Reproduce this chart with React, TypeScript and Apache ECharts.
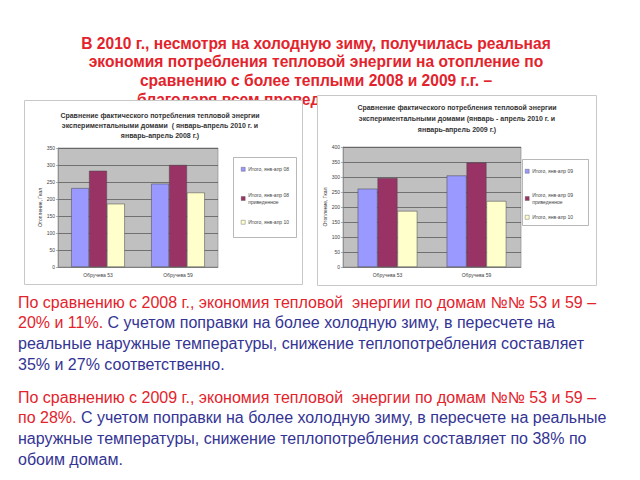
import React, { useEffect, useRef } from "react";
import * as echarts from "echarts";

const categories = ["Обручева 53", "Обручева 59"];

const leftSeriesNames = ["Итого, янв-апр 08", "Итого, янв-апр 08\nприведенное", "Итого, янв-апр 10"];
const left08 = [232, 245];
const left08adj = [283, 300];
const left10a = [186, 219];

const rightSeriesNames = ["Итого, янв-апр 09", "Итого, янв-апр 09\nприведенное", "Итого, янв-апр 10"];
const right09 = [261, 305];
const right09adj = [297, 348];
const right10b = [187, 220];

const leftTicks = { min: 0, max: 350, interval: 50 };
const rightTicks = { min: 0, max: 400, interval: 50 };

const yName = "Отопление, Гкал";

const leftTitle = [
  "Сравнение фактического потребления тепловой энергии",
  "экспериментальными домами  ( январь-апрель 2010 г. и",
  "январь-апрель 2008 г.)",
];
const rightTitle = [
  "Сравнение фактического потребления тепловой энергии",
  "экспериментальными домами (январь - апрель 2010 г. и",
  "январь-апрель 2009 г.)",
];

const headLines = [
  "В 2010 г., несмотря на холодную зиму, получилась реальная",
  "экономия потребления тепловой энергии на отопление по",
  "сравнению с более теплыми 2008 и 2009 г.г. –",
];
const headLast = "благодаря всем провед";

const para1 = [
  [["r", "По сравнению с 2008 г., экономия тепловой  энергии по домам №№ 53 и 59 –"]],
  [["r", "20% и 11%."], ["b", " С учетом поправки на более холодную зиму, в пересчете на"]],
  [["b", "реальные наружные температуры, снижение теплопотребления составляет"]],
  [["b", "35% и 27% соответственно."]],
];
const para2 = [
  [["r", "По сравнению с 2009 г., экономия тепловой  энергии по домам №№ 53 и 59 –"]],
  [["r", "по 28%."], ["b", " С учетом поправки на более холодную зиму, в пересчете на реальные"]],
  [["b", "наружные температуры, снижение теплопотребления составляет по 38% по"]],
  [["b", "обоим домам."]],
];

const COLORS = ["#9999FF", "#993366", "#FFFFCC"];
const FONT = "Liberation Sans, Arial, sans-serif";

export default function App() {
  const ref = useRef<HTMLDivElement>(null);
  useEffect(() => {
    if (!ref.current) return;
    const chart = echarts.init(ref.current, undefined, { renderer: "svg" });

    const mkSeries = (names: string[], datas: number[][], idx: number) =>
      names.map((n, i) => ({
        type: "bar",
        name: n,
        xAxisIndex: idx,
        yAxisIndex: idx,
        data: datas[i],
        barGap: "0%",
        barCategoryGap: "33%",
        z: 5,
        itemStyle: { color: COLORS[i], borderColor: "#444", borderWidth: 0.5 },
      }));

    const yAxisBase = (t: any, gap: number) => ({
      type: "value",
      min: t.min,
      max: t.max,
      interval: t.interval,
      name: yName,
      nameLocation: "middle",
      nameGap: gap,
      z: 5,
      nameTextStyle: { fontSize: 5, color: "#333", fontFamily: FONT },
      axisLine: { show: true, lineStyle: { color: "#808080", width: 0.6 } },
      axisTick: { show: true, length: 2, lineStyle: { color: "#808080", width: 0.6 } },
      axisLabel: { fontSize: 5, color: "#444", margin: 3, fontFamily: FONT },
      splitLine: { lineStyle: { color: "#222", width: 0.5 } },
    });
    const xAxisBase = (idx: number) => ({
      type: "category",
      gridIndex: idx,
      data: categories,
      z: 5,
      axisLine: { lineStyle: { color: "#808080", width: 0.6 } },
      axisTick: { length: 2, lineStyle: { color: "#808080", width: 0.6 } },
      axisLabel: { fontSize: 5, color: "#444", margin: 5, fontFamily: FONT },
    });

    const legendItem = (name: string, ci: number, x: number, y: number) => ({
      data: [{ name, itemStyle: { color: COLORS[ci], borderColor: "#555", borderWidth: 0.4 } }],
      left: x,
      top: y,
      orient: "vertical",
      padding: 0,
      itemWidth: 4,
      itemHeight: 4,
      itemGap: 0,
      icon: "rect",
      z: 6,
      selectedMode: false,
      textStyle: { fontSize: 5, color: "#444", fontFamily: FONT, lineHeight: 6.5, padding: [0, 0, 0, -2] },
    });

    const titleText = (lines: string[], cx: number, y0: number, step: number) =>
      lines.map((l, i) => ({
        type: "text",
        x: cx,
        y: y0 + i * step,
        z: 5,
        style: {
          text: l,
          fill: "#333",
          font: `bold 7px ${FONT}`,
          align: "center",
          verticalAlign: "middle",
        },
      }));

    const mkPara = (lines: string[][][], y0: number) =>
      lines.map((segs, i) => ({
        type: "text",
        x: 18,
        y: y0 + i * 20.7,
        z: 5,
        style: {
          text: segs.map(([k, t]) => `{${k}|${t}}`).join(""),
          verticalAlign: "middle",
          rich: {
            r: { fontSize: 16, fontFamily: FONT, fill: "#E3232C" },
            b: { fontSize: 16, fontFamily: FONT, fill: "#343494" },
          },
        },
      }));

    const headTexts: any[] = headLines.map((l, i) => ({
      type: "text",
      x: 316,
      y: 43 + i * 18.7,
      z: 5,
      style: {
        text: l,
        font: `bold 15.6px ${FONT}`,
        fill: "#E3232C",
        align: "center",
        verticalAlign: "middle",
      },
    }));
    headTexts.push({
      type: "text",
      x: 137,
      y: 99.5,
      z: -20,
      style: { text: headLast, font: `bold 15.6px ${FONT}`, fill: "#E3232C", verticalAlign: "middle" },
    });

    chart.setOption({
      animation: false,
      backgroundColor: "#ffffff",
      grid: [
        { left: 58, top: 148, width: 160, height: 119, show: true, backgroundColor: "#C0C0C0", borderColor: "#808080", borderWidth: 0.6, z: 1 },
        { left: 343, top: 147, width: 178, height: 120, show: true, backgroundColor: "#C0C0C0", borderColor: "#808080", borderWidth: 0.6, z: 1 },
      ],
      xAxis: [xAxisBase(0), xAxisBase(1)],
      yAxis: [
        { ...yAxisBase(leftTicks, 14), gridIndex: 0 },
        { ...yAxisBase(rightTicks, 15), gridIndex: 1 },
      ],
      legend: [
        legendItem(leftSeriesNames[0], 0, 241, 166),
        legendItem(leftSeriesNames[1], 1, 241, 192),
        legendItem(leftSeriesNames[2], 2, 241, 219),
        legendItem(rightSeriesNames[0], 0, 525, 168),
        legendItem(rightSeriesNames[1], 1, 525, 192),
        legendItem(rightSeriesNames[2], 2, 525, 214),
      ],
      graphic: [
        ...headTexts,
        { type: "rect", z: -10, shape: { x: 24.5, y: 100.5, width: 278, height: 184 }, style: { fill: "#fff", stroke: "#c8c8c8", lineWidth: 1 } },
        { type: "rect", z: -10, shape: { x: 317.5, y: 95.5, width: 279, height: 190 }, style: { fill: "#fff", stroke: "#c8c8c8", lineWidth: 1 } },
        { type: "rect", z: -5, shape: { x: 233.5, y: 157.5, width: 63, height: 80 }, style: { fill: "#fff", stroke: "#999", lineWidth: 0.7 } },
        { type: "rect", z: -5, shape: { x: 522.5, y: 159.5, width: 66, height: 66 }, style: { fill: "#fff", stroke: "#999", lineWidth: 0.7 } },
        ...titleText(leftTitle, 160, 115, 10),
        ...titleText(rightTitle, 457, 107, 11),
        ...mkPara(para1, 302),
        ...mkPara(para2, 397),
      ],
      series: [
        ...mkSeries(leftSeriesNames, [left08, left08adj, left10a], 0),
        ...mkSeries(rightSeriesNames, [right09, right09adj, right10b], 1),
      ],
    });
    return () => chart.dispose();
  }, []);
  return (
    <div
      ref={ref}
      style={{ position: "fixed", left: 0, top: 0, width: 640, height: 480 }}
    />
  );
}
